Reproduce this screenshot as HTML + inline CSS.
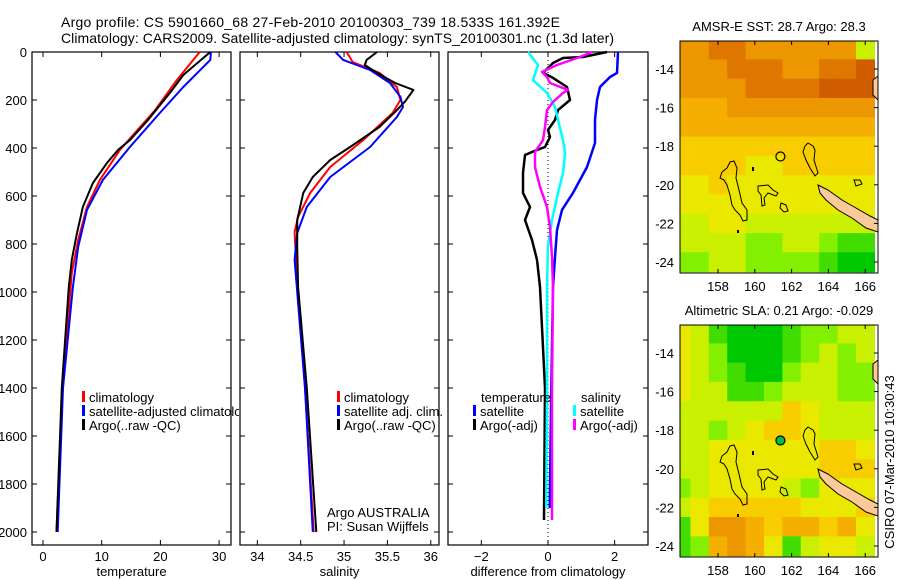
<!DOCTYPE html>
<html><head><meta charset="utf-8"><style>
html,body{margin:0;padding:0;background:#fff;}
svg{display:block;font-family:"Liberation Sans",sans-serif;}
</style></head><body>
<svg id="fig" width="900" height="580" viewBox="0 0 900 580"></svg>
<script>
// ---------- data ----------
const depthTicks=[0,200,400,600,800,1000,1200,1400,1600,1800,2000];
const tempTicks=[0,10,20,30];
const salTicks=[34,34.5,35,35.5,36];
const salTickLabels=["34","34.5","35","35.5","36"];
const diffTicks=[-2,0,2];
const tempClimD=[0,117,242,408,533,645,783,920,1400,2000];
const tempClimV=[26.7,22.8,19.1,13.1,9.7,7.5,6.0,4.9,3.3,2.3];
const tempSatD=[0,33,146,254,396,533,658,812,979,1400,2000];
const tempSatV=[28.6,28.5,23.9,19.9,14.8,10.2,7.5,6.0,5.1,3.4,2.5];
const tempArgoD=[0,54,96,171,283,367,408,462,546,645,754,866,979,1400,2000];
const tempArgoV=[28.5,25.9,23.9,21.6,17.9,14.8,12.8,10.9,8.5,6.8,5.8,4.9,4.4,3.2,2.3];
const salClimD=[0,42,87,146,200,254,367,479,587,687,750,900,1400,2000];
const salClimV=[35.03,35.10,35.41,35.61,35.65,35.56,35.22,34.84,34.61,34.47,34.43,34.45,34.55,34.65];
const salSatD=[0,33,75,129,187,229,271,396,521,646,754,866,1400,2000];
const salSatV=[34.90,34.99,35.30,35.53,35.65,35.68,35.61,35.30,34.84,34.57,34.46,34.43,34.55,34.64];
const salArgoD=[0,33,54,87,129,158,208,242,312,396,450,521,587,700,812,979,1400,2000];
const salArgoV=[35.38,35.26,35.24,35.38,35.59,35.80,35.70,35.61,35.41,35.07,34.84,34.64,34.53,34.46,34.46,34.47,34.57,34.68];
const dTSatD=[0,87,104,146,200,283,379,479,587,658,742,854,979,1400,1900];
const dTSatV=[2.1,2.07,1.86,1.56,1.47,1.41,1.41,1.17,0.75,0.42,0.27,0.21,0.15,0.1,0.05];
const dTArgoD=[0,21,25,46,87,108,146,200,242,283,325,354,396,408,429,504,587,646,700,783,866,979,1400,1950];
const dTArgoV=[1.77,1.05,0.45,0.15,-0.15,0.15,0.57,0.66,0.30,0.21,0.0,0.06,-0.09,-0.33,-0.69,-0.75,-0.75,-0.54,-0.69,-0.48,-0.33,-0.24,-0.09,-0.12];
const dSSatD=[0,54,117,171,229,283,367,421,504,587,700,812,979,1400,1900];
const dSSatV=[-0.6,-0.3,-0.45,-0.03,0.21,0.30,0.45,0.51,0.45,0.30,0.12,0.0,-0.03,-0.03,-0.05];
const dSArgoD=[0,21,54,83,104,129,158,171,208,242,312,367,417,479,562,646,729,854,979,1400,1950];
const dSArgoV=[1.32,0.96,0.27,-0.18,-0.03,0.06,0.6,0.45,0.15,-0.03,-0.09,-0.15,-0.39,-0.39,-0.24,-0.03,0.06,0.12,0.15,0.12,0.12];
const mapLons=[156,157,158,159,160,161,162,163,164,165,166];
const mapLats=[-12.5,-13.5,-14.5,-15.5,-16.5,-17.5,-18.5,-19.5,-20.5,-21.5,-22.5,-23.5];
const lonTicks=[158,160,162,164,166];
const latTicks=[-14,-16,-18,-20,-22,-24];
const sstGrid=[
[7,7,8,8,7,7,7,7,7,7,3],
[7,7,7,8,8,8,7,7,8,8,9],
[7,7,7,7,8,8,8,8,9,9,9],
[6,6,6,7,7,7,7,7,7,7,7],
[6,6,6,6,6,6,6,6,6,6,6],
[5,5,5,5,5,5,5,5,5,5,5],
[5,5,5,5,4,4,5,5,5,5,5],
[4,4,5,4,4,4,4,4,4,4,4],
[4,4,4,4,4,4,4,4,4,4,4],
[3,3,4,4,3,3,3,3,3,3,3],
[3,3,3,3,2,2,3,3,2,1,1],
[2,2,3,3,2,2,2,2,1,0,0]];
const slaGrid=[
[4,3,1,0,0,0,1,2,2,3,3],
[4,3,2,0,0,0,1,2,3,2,3],
[4,3,2,1,0,0,2,3,3,2,2],
[4,3,3,1,1,2,3,3,3,2,2],
[3,3,3,3,3,3,5,4,3,3,3],
[3,3,2,3,4,5,5,4,3,3,3],
[3,3,4,4,4,4,4,4,5,5,4],
[3,3,4,4,4,4,4,4,5,5,5],
[2,3,4,4,4,4,3,2,4,4,4],
[3,4,5,5,5,5,5,4,4,4,5],
[1,4,7,7,6,5,6,6,5,6,4],
[1,2,6,7,6,4,1,3,4,4,3]];
const argoLon=161.392, argoLat=-18.533;

// ---------- helpers ----------
const NS="http://www.w3.org/2000/svg";
const svg=document.getElementById('fig');
function mk(tag,attrs,parent){const e=document.createElementNS(NS,tag);for(const k in attrs)e.setAttribute(k,attrs[k]);(parent||svg).appendChild(e);return e;}
function txt(s,x,y,size,anchor,parent){const t=mk('text',{x:x,y:y,'font-size':size,'text-anchor':anchor||'start',fill:'#000'},parent);t.textContent=s;return t;}
const yD=d=>52+d*0.24;
const PT={x0:32,x1:231},PS={x0:240,x1:439},PD={x0:448,x1:648};
const xT=v=>43+v*5.87;
const xS=v=>240+(v-33.8)*86.7;
const xDf=v=>448+(v+3)*33.33;

// title
let t=txt("Argo profile: CS 5901660_68 27-Feb-2010 20100303_739 18.533S 161.392E",61,27,14);
t.setAttribute('textLength','499');

t=txt("Climatology: CARS2009. Satellite-adjusted climatology: synTS_20100301.nc (1.3d later)",61,43,14);
t.setAttribute('textLength','553');


function panel(P,name,ticks,labels,xf,xlabel,ylabels){
  const g=mk('g',{});
  
  
  const fr=mk('rect',{x:P.x0,y:52,width:P.x1-P.x0,height:493,fill:'none',stroke:'#000','stroke-width':1.2},g);
  
  depthTicks.forEach(d=>{
    mk('line',{x1:P.x0,x2:P.x0+5,y1:yD(d),y2:yD(d),stroke:'#000'},g);
    mk('line',{x1:P.x1-5,x2:P.x1,y1:yD(d),y2:yD(d),stroke:'#000'},g);
    if(ylabels){const l=txt(String(d),27,yD(d)+5,13,'end',g);}
  });
  ticks.forEach((v,i)=>{
    const x=xf(v);
    mk('line',{x1:x,x2:x,y1:52,y2:57,stroke:'#000'},g);
    mk('line',{x1:x,x2:x,y1:540,y2:545,stroke:'#000'},g);
    const l=txt(labels[i],x,561,13,'middle',g);
    
  });
  const xl=txt(xlabel,(P.x0+P.x1)/2,576,13,'middle',g);
  
  return g;
}
panel(PT,'temperature-panel',tempTicks,tempTicks.map(String),xT,'temperature',true);
panel(PS,'salinity-panel',salTicks,salTickLabels,xS,'salinity',false);
panel(PD,'difference-panel',diffTicks,diffTicks.map(v=>v<0?'\u2212'+(-v):String(v)),xDf,'difference from climatology',false);

const zl=mk('line',{x1:xDf(0),x2:xDf(0),y1:52,y2:545,stroke:'#000','stroke-dasharray':'1,3'});


function series(D,V,xf,color,w,name){
  const pts=D.map((d,i)=>xf(V[i]).toFixed(1)+','+yD(d).toFixed(1)).join(' ');
  const p=mk('polyline',{points:pts,fill:'none',stroke:color,'stroke-width':w,'stroke-linejoin':'round'});
  
  
}
series(tempClimD,tempClimV,xT,'#f00',2,'temp-climatology-line');
series(tempSatD,tempSatV,xT,'#00f',2,'temp-satellite-line');
series(tempArgoD,tempArgoV,xT,'#000',2,'temp-argo-line');
series(salClimD,salClimV,xS,'#f00',2,'sal-climatology-line');
series(salSatD,salSatV,xS,'#00f',2,'sal-satellite-line');
series(salArgoD,salArgoV,xS,'#000',2,'sal-argo-line');
series(dTSatD,dTSatV,xDf,'#00f',2.5,'diff-temp-satellite-line');
series(dTArgoD,dTArgoV,xDf,'#000',2.5,'diff-temp-argo-line');
series(dSSatD,dSSatV,xDf,'#0ff',2.5,'diff-sal-satellite-line');
series(dSArgoD,dSArgoV,xDf,'#f0f',2.5,'diff-sal-argo-line');

// legends
const cp=mk('clipPath',{id:'clipL'});mk('rect',{x:0,y:380,width:239,height:60},cp);
function legend(x,y,color,label,name,clip){
  const g=mk('g',clip?{'clip-path':'url(#clipL)'}:{});
  
  
  mk('rect',{x:x,y:y-11,width:3,height:11,fill:color},g);
  txt(label,x+7,y,13,'start',g);
}
legend(82,402,'#f00','climatology','legend-temp-climatology',true);
legend(82,416,'#00f','satellite-adjusted climatology','legend-temp-satellite',true);
legend(82,430,'#000','Argo(..raw -QC)','legend-temp-argo',true);
legend(337,402,'#f00','climatology','legend-sal-climatology');
legend(337,416,'#00f','satellite adj. clim.','legend-sal-satellite');
legend(337,430,'#000','Argo(..raw -QC)','legend-sal-argo');
t=txt('temperature',481,402,13);
t=txt('salinity',581,402,13);
legend(473,416,'#00f','satellite','legend-diff-temp-satellite');
legend(473,430,'#000','Argo(-adj)','legend-diff-temp-argo');
legend(573,416,'#0ff','satellite','legend-diff-sal-satellite');
legend(573,430,'#f0f','Argo(-adj)','legend-diff-sal-argo');
t=txt('Argo AUSTRALIA',327,517,13);
t=txt('PI: Susan Wijffels',327,531,13);

// ---------- maps ----------
const stops=[[0,[0,200,0]],[2,[130,240,0]],[3,[200,240,0]],[4,[235,232,0]],[5,[248,205,0]],[6,[245,175,0]],[7,[236,150,0]],[8,[222,118,0]],[9,[208,92,0]],[10,[200,70,0]]];
function cmap(v){for(let i=1;i<stops.length;i++){if(v<=stops[i][0]){const a=stops[i-1],b=stops[i],f=(v-a[0])/(b[0]-a[0]);return 'rgb('+a[1].map((c,k)=>Math.round(c+(b[1][k]-c)*f)).join(',')+')';}}return 'rgb(200,70,0)';}
function drawMap(top,grid,title,name,filledDot){
  const g=mk('g',{});
  
  
  const lx=lon=>718+(lon-158)*18.4;
  const ly=lat=>top+28+(-14-lat)*19.3;
  const cid='clip'+name;
  const c=mk('clipPath',{id:cid});mk('rect',{x:680,y:top,width:198,height:232},c);
  const cells=mk('g',{'clip-path':'url(#'+cid+')'},g);
  grid.forEach((row,r)=>row.forEach((v,ci)=>{
    const x0=lx(mapLons[ci]-0.5), y0=ly(mapLats[r]);
    const cell=mk('rect',{x:x0.toFixed(1),y:y0.toFixed(1),width:19,height:20,fill:cmap(v)},cells);
    
    
  }));
  const o=top-41;
  const isl=(pts,fill)=>{const p=mk('polygon',{points:pts.map(q=>q[0]+','+(q[1]+o)).join(' '),fill:fill||'none',stroke:'#000','stroke-width':1},cells);};
  isl([[730,162],[734,161],[737,168],[736,178],[739,190],[742,203],[747,210],[747,220],[743,221],[740,215],[735,210],[732,205],[730,195],[727,185],[724,180],[720,178],[722,172],[727,168]]);
  isl([[758,186],[768,185],[773,190],[778,193],[776,196],[768,193],[764,198],[765,205],[762,206],[761,195],[758,191]]);
  isl([[808,143],[813,146],[815,150],[814,160],[818,173],[815,176],[810,168],[806,160],[803,152],[805,146]]);
  isl([[781,203],[786,205],[788,211],[784,212],[780,208]]);
  isl([[818,185],[828,190],[842,200],[856,208],[870,216],[878,220],[878,232],[866,228],[852,218],[838,210],[826,200],[820,193]],'#fcc99a');
  isl([[873,80],[878,76],[878,100],[873,95]],'#fcc99a');
  isl([[854,180],[860,180],[862,184],[856,186]]);
  mk('rect',{x:737,y:230+o,width:2,height:3,fill:'#000'},cells);
  mk('rect',{x:752,y:167+o,width:2,height:4,fill:'#000'},cells);
  const dot=mk('circle',{cx:lx(argoLon),cy:ly(argoLat),r:4.5,fill:filledDot?'#00c040':'none',stroke:'#000','stroke-width':1.2},g);
  
  const fr=mk('rect',{x:680,y:top,width:198,height:232,fill:'none',stroke:'#000','stroke-width':1},g);
  
  lonTicks.forEach(v=>{const x=lx(v);mk('line',{x1:x,x2:x,y1:top,y2:top+4,stroke:'#000'},g);mk('line',{x1:x,x2:x,y1:top+228,y2:top+232,stroke:'#000'},g);
    const l=txt(String(v),x,top+250,13,'middle',g);});
  latTicks.forEach(v=>{const y=ly(v);mk('line',{x1:874,x2:878,y1:y,y2:y,stroke:'#000'},g);
    const l=txt('-'+(-v),674,y+5,13,'end',g);});
  const tt=txt(title,779,top-10,13,'middle',g);
  
}
drawMap(41,sstGrid,'AMSR-E SST: 28.7 Argo: 28.3','sst-map',false);
drawMap(325,slaGrid,'Altimetric SLA: 0.21 Argo: -0.029','sla-map',true);

const cs=txt('CSIRO 07-Mar-2010 10:30:43',0,0,13,'middle');
cs.setAttribute('transform','translate(894,462) rotate(-90)');


</script>
</body></html>
